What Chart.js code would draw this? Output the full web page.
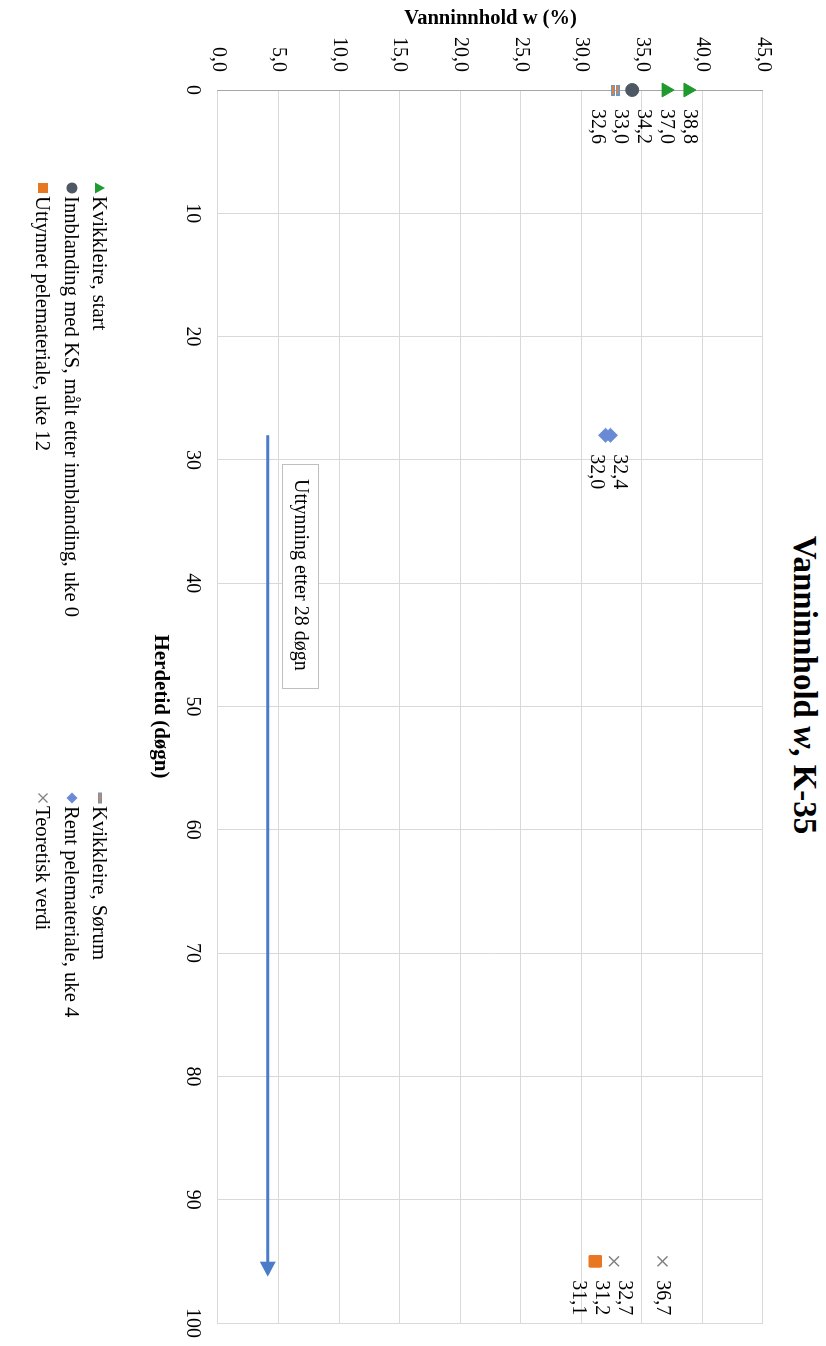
<!DOCTYPE html>
<html>
<head>
<meta charset="utf-8">
<script src="https://cdn.jsdelivr.net/npm/chart.js@4"></script>
<style>
  html, body { margin: 0; padding: 0; background: #fff; overflow: hidden; }
  #ramme {
    position: absolute; left: 0; top: 0; width: 1346px; height: 826px;
    transform-origin: 0 0; transform: translate(826px, 0) rotate(90deg);
    font-family: "Liberation Serif", "Times New Roman", serif; color: #000;
  }
  #diagram { position: absolute; left: 0; top: 0; }
  #tittel {
    position: absolute; left: 685px; top: 5px; transform: translateX(-50%);
    font-size: 33px; line-height: 33px; font-weight: bold; white-space: nowrap;
  }
  .forklaring {
    position: absolute; font-size: 20.7px; line-height: 24px; white-space: nowrap;
    display: flex; align-items: center;
  }
  .forklaring svg { margin-right: 2px; }
</style>
</head>
<body>
<div id="ramme">
  <div id="tittel">Vanninnhold <i>w</i>, K-35</div>
  <canvas id="diagram" width="1346" height="826"></canvas>
  <div id="forklaringer"></div>
</div>
<script>
// Måleverdier: herdetid (døgn) og vanninnhold (%)
const dagerStart = [0, 0];
const kvikkleireStart = [38.8, 37.0];
const dagerSorum = [0, 0];
const kvikkleireSorum = [33.0, 32.6];
const dagerInnblanding = [0];
const innblandingUke0 = [34.2];
const dagerRent = [28, 28];
const rentUke4 = [32.4, 32.0];
const dagerUttynnet = [95, 95];
const uttynnetUke12 = [31.2, 31.1];
const dagerTeori = [95, 95];
const teoretiskVerdi = [36.7, 32.7];

// Pil for uttynning
const pilDager = [28, 96];
const pilVerdi = [4.1, 4.1];
const pilTekst = 'Uttynning etter 28 døgn';
const boksDag = 30.3;
const boksVerdi = 8.3;

const serif = '"Liberation Serif", "Times New Roman", serif';
const komma = v => v.toFixed(1).replace('.', ',');
const punkter = (xs, ys) => xs.map((x, i) => ({ x: x, y: ys[i] }));

// Strek-markør (oransje med blå kant)
function lagStrek() {
    const c = document.createElement('canvas');
    c.width = 11; c.height = 4;
    const g = c.getContext('2d');
    g.fillStyle = '#5b9bd5'; g.fillRect(0, 0, 11, 4);
    g.fillStyle = '#ed7d31'; g.fillRect(1, 1, 9, 2);
    return c;
}

const serier = [
    { label: 'Kvikkleire, start', data: punkter(dagerStart, kvikkleireStart), pointStyle: 'triangle', pointRadius: 8, backgroundColor: '#1f9a2e', borderColor: '#1f9a2e', borderWidth: 1 },
    { label: 'Kvikkleire, Sørum', data: punkter(dagerSorum, kvikkleireSorum), pointStyle: lagStrek(), pointRadius: 6 },
    { label: 'Innblanding med KS, målt etter innblanding, uke 0', data: punkter(dagerInnblanding, innblandingUke0), pointStyle: 'circle', pointRadius: 6.5, backgroundColor: '#4d5864', borderColor: '#4d5864', borderWidth: 1 },
    { label: 'Rent pelemateriale, uke 4', data: punkter(dagerRent, rentUke4), pointStyle: 'rectRot', pointRadius: 7, backgroundColor: '#6a8ad6', borderColor: '#6a8ad6', borderWidth: 1 },
    { label: 'Uttynnet pelemateriale, uke 12', data: punkter(dagerUttynnet, uttynnetUke12), pointStyle: 'rect', pointRadius: 8, backgroundColor: '#e87722', borderColor: '#e87722', borderWidth: 1 },
    { label: 'Teoretisk verdi', data: punkter(dagerTeori, teoretiskVerdi), pointStyle: 'crossRot', pointRadius: 7, backgroundColor: '#808080', borderColor: '#808080', borderWidth: 1.5 }
];
serier.forEach(s => { s.visEtikett = true; s.clip = false; });

const pil = {
    label: 'pil', data: punkter(pilDager, pilVerdi), type: 'line', showLine: true,
    borderColor: '#4a7cc9', borderWidth: 3, pointRadius: 0, fill: false
};

// Dataetiketter med enkel kollisjonshåndtering
const etiketter = {
    id: 'etiketter',
    afterDatasetsDraw(chart) {
        const ctx = chart.ctx;
        const grupper = {};
        chart.data.datasets.forEach((ds, i) => {
            if (!ds.visEtikett) return;
            chart.getDatasetMeta(i).data.forEach((pt, j) => {
                const k = Math.round(pt.x);
                (grupper[k] = grupper[k] || []).push({ x: pt.x, y: pt.y, tekst: komma(ds.data[j].y) });
            });
        });
        const avstand = 23;
        ctx.save();
        ctx.font = '20px ' + serif;
        ctx.fillStyle = '#000';
        ctx.textAlign = 'left';
        ctx.textBaseline = 'middle';
        Object.values(grupper).forEach(g => {
            g.sort((a, b) => a.y - b.y);
            const plasser = k => {
                const midt = k.pts.reduce((s, p) => s + p.y, 0) / k.pts.length;
                k.topp = midt - (k.pts.length - 1) * avstand / 2;
            };
            const kl = g.map(p => ({ pts: [p] }));
            kl.forEach(plasser);
            let endret = true;
            while (endret) {
                endret = false;
                for (let i = 0; i < kl.length - 1; i++) {
                    const a = kl[i], b = kl[i + 1];
                    if (a.topp + a.pts.length * avstand > b.topp + 1) {
                        a.pts = a.pts.concat(b.pts);
                        kl.splice(i + 1, 1);
                        plasser(a);
                        endret = true;
                        break;
                    }
                }
            }
            kl.forEach(k => k.pts.forEach((p, n) => ctx.fillText(p.tekst, p.x + 19, k.topp + n * avstand)));
        });
        ctx.restore();
    }
};

// Pilspiss og tekstboks
const pilOgBoks = {
    id: 'pilOgBoks',
    afterDatasetsDraw(chart) {
        const { ctx, scales: { x, y } } = chart;
        const px = x.getPixelForValue(pilDager[1]);
        const py = y.getPixelForValue(pilVerdi[1]);
        ctx.save();
        ctx.fillStyle = '#4a7cc9';
        ctx.beginPath();
        ctx.moveTo(px + 3, py);
        ctx.lineTo(px - 12, py - 8);
        ctx.lineTo(px - 12, py + 8);
        ctx.closePath();
        ctx.fill();

        ctx.font = '20px ' + serif;
        const w = Math.round(ctx.measureText(pilTekst).width + 32);
        const bx = Math.round(x.getPixelForValue(boksDag));
        const by = Math.round(y.getPixelForValue(boksVerdi));
        ctx.fillStyle = '#fff';
        ctx.fillRect(bx, by, w, 36);
        ctx.strokeStyle = '#bfbfbf';
        ctx.lineWidth = 1;
        ctx.strokeRect(bx + 0.5, by + 0.5, w, 36);
        ctx.fillStyle = '#000';
        ctx.textBaseline = 'middle';
        ctx.textAlign = 'left';
        ctx.fillText(pilTekst, bx + 15, by + 19);
        ctx.restore();
    }
};

Chart.defaults.font.family = serif;
Chart.defaults.font.size = 20;
Chart.defaults.color = '#000';

new Chart(document.getElementById('diagram'), {
    type: 'scatter',
    data: { datasets: serier.concat([pil]) },
    options: {
        responsive: false,
        animation: false,
        layout: { padding: { left: 0, right: 23, top: 63, bottom: 128 } },
        plugins: { legend: { display: false }, title: { display: false }, tooltip: { enabled: false } },
        scales: {
            x: {
                type: 'linear', min: 0, max: 100,
                afterFit(s) { s.height = 90; s.paddingLeft = 0; s.paddingRight = 0; },
                ticks: { stepSize: 10, padding: 14 },
                grid: { color: '#d9d9d9', drawTicks: false },
                border: { color: '#d9d9d9' },
                title: { display: true, text: 'Herdetid (døgn)', font: { weight: 'bold', size: 21 }, padding: { top: 20, bottom: 20 } }
            },
            y: {
                type: 'linear', min: 0, max: 45,
                afterFit(s) { s.width = 90; s.paddingTop = 0; s.paddingBottom = 0; },
                ticks: { stepSize: 5, padding: 18, callback: v => komma(v) },
                grid: { color: '#d9d9d9', drawTicks: false },
                border: { color: '#a6a6a6' },
                title: { display: true, text: 'Vanninnhold w (%)', font: { weight: 'bold', size: 20.5 }, padding: { top: 6, bottom: 6 } }
            }
        }
    },
    plugins: [etiketter, pilOgBoks]
});

// Forklaring (to kolonner)
const markorer = {
    triangle: '<svg width="12" height="12"><polygon points="6,1 11.5,11 0.5,11" fill="#1f9a2e"/></svg>',
    strek: '<svg width="12" height="12"><rect x="1" y="4.5" width="10" height="3" fill="#ed7d31" stroke="#5b9bd5" stroke-width="1"/></svg>',
    circle: '<svg width="12" height="12"><circle cx="6" cy="6" r="5.5" fill="#4d5864"/></svg>',
    rectRot: '<svg width="12" height="12"><polygon points="6,0.5 11.5,6 6,11.5 0.5,6" fill="#6a8ad6"/></svg>',
    rect: '<svg width="12" height="12"><rect x="1" y="1" width="10" height="10" fill="#e87722"/></svg>',
    crossRot: '<svg width="12" height="12"><path d="M1.5,1.5 L10.5,10.5 M10.5,1.5 L1.5,10.5" stroke="#808080" stroke-width="1.3"/></svg>'
};
const forklaringsPlass = [
    [182, 726, 'triangle'], [792, 726, 'strek'],
    [182, 754, 'circle'], [792, 754, 'rectRot'],
    [182, 783, 'rect'], [792, 783, 'crossRot']
];
const boks = document.getElementById('forklaringer');
serier.forEach((s, n) => {
    const [lx, ly, m] = forklaringsPlass[n];
    const el = document.createElement('div');
    el.className = 'forklaring';
    el.style.left = lx + 'px';
    el.style.top = (ly - 12) + 'px';
    el.innerHTML = markorer[m] + '<span>' + s.label + '</span>';
    boks.appendChild(el);
});
</script>
</body>
</html>
